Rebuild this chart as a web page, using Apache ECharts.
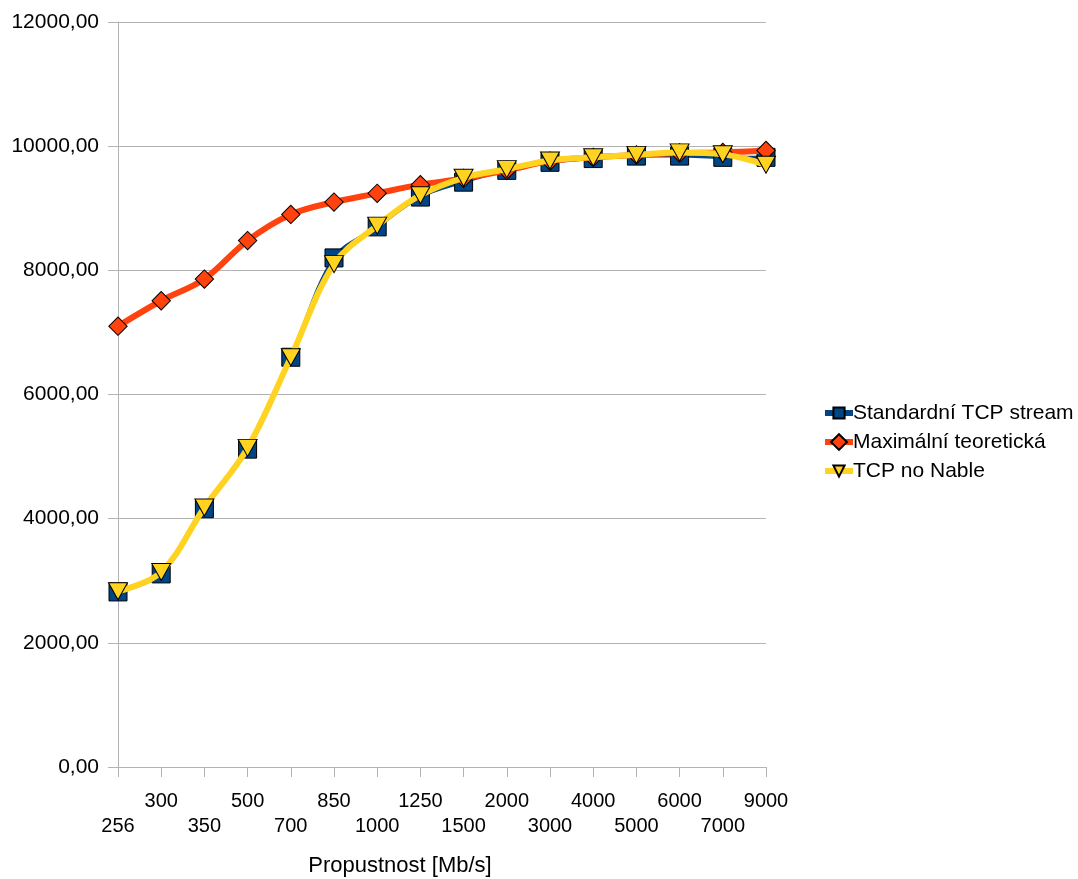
<!DOCTYPE html>
<html>
<head>
<meta charset="utf-8">
<script src="https://cdn.jsdelivr.net/npm/echarts@6/dist/echarts.min.js"></script>
<style>
  html, body { margin: 0; padding: 0; background: #fff; }
  #chart { width: 1078px; height: 879px; }
</style>
</head>
<body>
<div id="chart"></div>
<script>
// Throughput categories (Mb/s)
const categories = ['256', '300', '350', '500', '700', '850', '1000', '1250', '1500', '2000', '3000', '4000', '5000', '6000', '7000', '9000'];

// Measured / theoretical throughput values
const standardTcp = [2820, 3110, 4160, 5120, 6600, 8200, 8700, 9180, 9420, 9610, 9740, 9800, 9840, 9840, 9820, 9820];
const maxTheoretical = [7100, 7510, 7860, 8480, 8900, 9100, 9240, 9380, 9480, 9610, 9760, 9820, 9860, 9890, 9900, 9930];
const tcpNoNable = [2830, 3140, 4180, 5140, 6600, 8100, 8720, 9210, 9490, 9630, 9770, 9820, 9860, 9900, 9870, 9700];

const seriesNames = ['Standardní TCP stream', 'Maximální teoretická', 'TCP no Nable'];

const yTicks = { min: 0, max: 12000, interval: 2000 };

const FONT = '"Liberation Sans", Arial, sans-serif';
const GRID_COLOR = '#b3b3b3';

const chart = echarts.init(document.getElementById('chart'), null, { renderer: 'canvas' });

chart.setOption({
  animation: false,
  backgroundColor: '#ffffff',
  textStyle: { fontFamily: FONT, color: '#000' },
  grid: { left: 118, right: 312, top: 22, bottom: 112, containLabel: false, outerBoundsMode: 'none' },
  legend: {
    orient: 'vertical',
    left: 817,
    top: 397,
    itemWidth: 28,
    itemHeight: 14,
    itemGap: 7,
    lineStyle: { width: 6 },
    textStyle: { fontFamily: FONT, fontSize: 21, lineHeight: 22, color: '#000', padding: [0, 0, 0, -5] },
    data: seriesNames
  },
  xAxis: {
    type: 'category',
    data: categories,
    boundaryGap: false,
    name: 'Propustnost [Mb/s]',
    nameLocation: 'middle',
    nameGap: 88,
    nameTextStyle: { fontFamily: FONT, fontSize: 22, color: '#000', padding: [0, 84, 0, 0] },
    axisLine: { lineStyle: { color: GRID_COLOR, width: 1 } },
    axisTick: { show: true, alignWithLabel: true, interval: 0, length: 10, inside: false, lineStyle: { color: GRID_COLOR } },
    axisLabel: {
      interval: 0,
      fontFamily: FONT,
      fontSize: 20,
      color: '#000',
      margin: 22,
      lineHeight: 25,
      formatter: (v, i) => (i % 2 === 1 ? v : '\n' + v)
    },
    splitLine: { show: false }
  },
  yAxis: {
    type: 'value',
    min: yTicks.min,
    max: yTicks.max,
    interval: yTicks.interval,
    axisLine: { show: true, lineStyle: { color: GRID_COLOR, width: 1 } },
    axisTick: { show: true, length: 10, lineStyle: { color: GRID_COLOR } },
    axisLabel: {
      fontFamily: FONT,
      fontSize: 21,
      color: '#000',
      margin: 19,
      formatter: v => v.toFixed(2).replace('.', ',')
    },
    splitLine: { show: true, lineStyle: { color: GRID_COLOR, width: 1 } }
  },
  series: [
    {
      name: seriesNames[0],
      type: 'line',
      data: standardTcp,
      smooth: 0.35,
      symbol: 'rect',
      symbolSize: 18,
      lineStyle: { color: '#004586', width: 3 },
      itemStyle: { color: '#004586', borderColor: '#000', borderWidth: 1 },
      z: 2
    },
    {
      name: seriesNames[1],
      type: 'line',
      data: maxTheoretical,
      smooth: 0.35,
      symbol: 'rect',
      symbolSize: 13,
      symbolRotate: 45,
      lineStyle: { color: '#ff420e', width: 6 },
      itemStyle: { color: '#ff420e', borderColor: '#000', borderWidth: 1 },
      z: 3
    },
    {
      name: seriesNames[2],
      type: 'line',
      data: tcpNoNable,
      smooth: 0.35,
      symbol: 'triangle',
      symbolSize: [19, 17],
      symbolRotate: 180,
      lineStyle: { color: '#ffd320', width: 6 },
      itemStyle: { color: '#ffd320', borderColor: '#000', borderWidth: 1 },
      z: 4
    }
  ]
});
</script>
</body>
</html>
